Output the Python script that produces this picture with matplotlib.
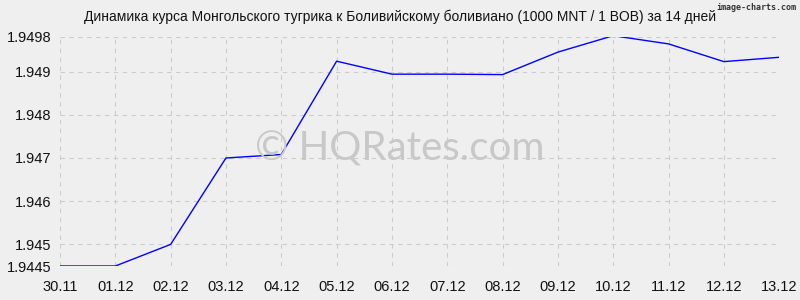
import matplotlib
matplotlib.use("Agg")
import matplotlib.pyplot as plt

dates = ["30.11", "01.12", "02.12", "03.12", "04.12", "05.12", "06.12",
         "07.12", "08.12", "09.12", "10.12", "11.12", "12.12", "13.12"]
rates = [1.9445, 1.9445, 1.9450, 1.9470, 1.94708, 1.94924, 1.94894,
         1.94894, 1.94893, 1.94945, 1.94983, 1.94964, 1.94923, 1.94933]
yticks = [1.9445, 1.945, 1.946, 1.947, 1.948, 1.949, 1.9498]
ytick_labels = ["1.9445", "1.945", "1.946", "1.947", "1.948", "1.949", "1.9498"]
title = "Динамика курса Монгольского тугрика к Боливийскому боливиано (1000 MNT / 1 BOB) за 14 дней"

plt.rcParams['font.family'] = ['Liberation Sans', 'DejaVu Sans']
bg = "#efefef"
fig = plt.figure(figsize=(8, 3), dpi=100, facecolor=bg)
ax = fig.add_axes([0.075, 0.1133, 0.899, 0.7634], facecolor=bg)

x = list(range(len(dates)))
ax.plot(x, rates, color="#0000ff", linewidth=1.0, zorder=3)

ax.set_xlim(0, len(dates) - 1)
ax.set_ylim(yticks[0], yticks[-1])
ax.set_xticks(x)
ax.set_xticklabels(dates, fontsize=10.5, color="#111111")
ax.set_yticks(yticks)
ax.set_yticklabels(ytick_labels, fontsize=10.5, color="#111111")
ax.tick_params(axis="x", length=0, pad=10)
ax.tick_params(axis="y", length=0, pad=6)
for s in ax.spines.values():
    s.set_visible(False)
ax.grid(True, color="#cccccc", linestyle=(0, (4, 4)), linewidth=0.8, zorder=0)
ax.set_axisbelow(True)

fig.text(0.5, 0.943, title, ha="center", va="center", fontsize=10, color="#111111")
fig.text(0.996, 0.975, "image-charts.com", ha="right", va="center", fontsize=6,
         family="DejaVu Sans Mono", weight="bold", color="#333333")
fig.text(0.5, 0.505, "© HQRates.com", ha="center", va="center",
         fontsize=29, color="#c8c8c8", family="Lato", zorder=1)

fig.savefig("out.png", dpi=100, facecolor=bg)
